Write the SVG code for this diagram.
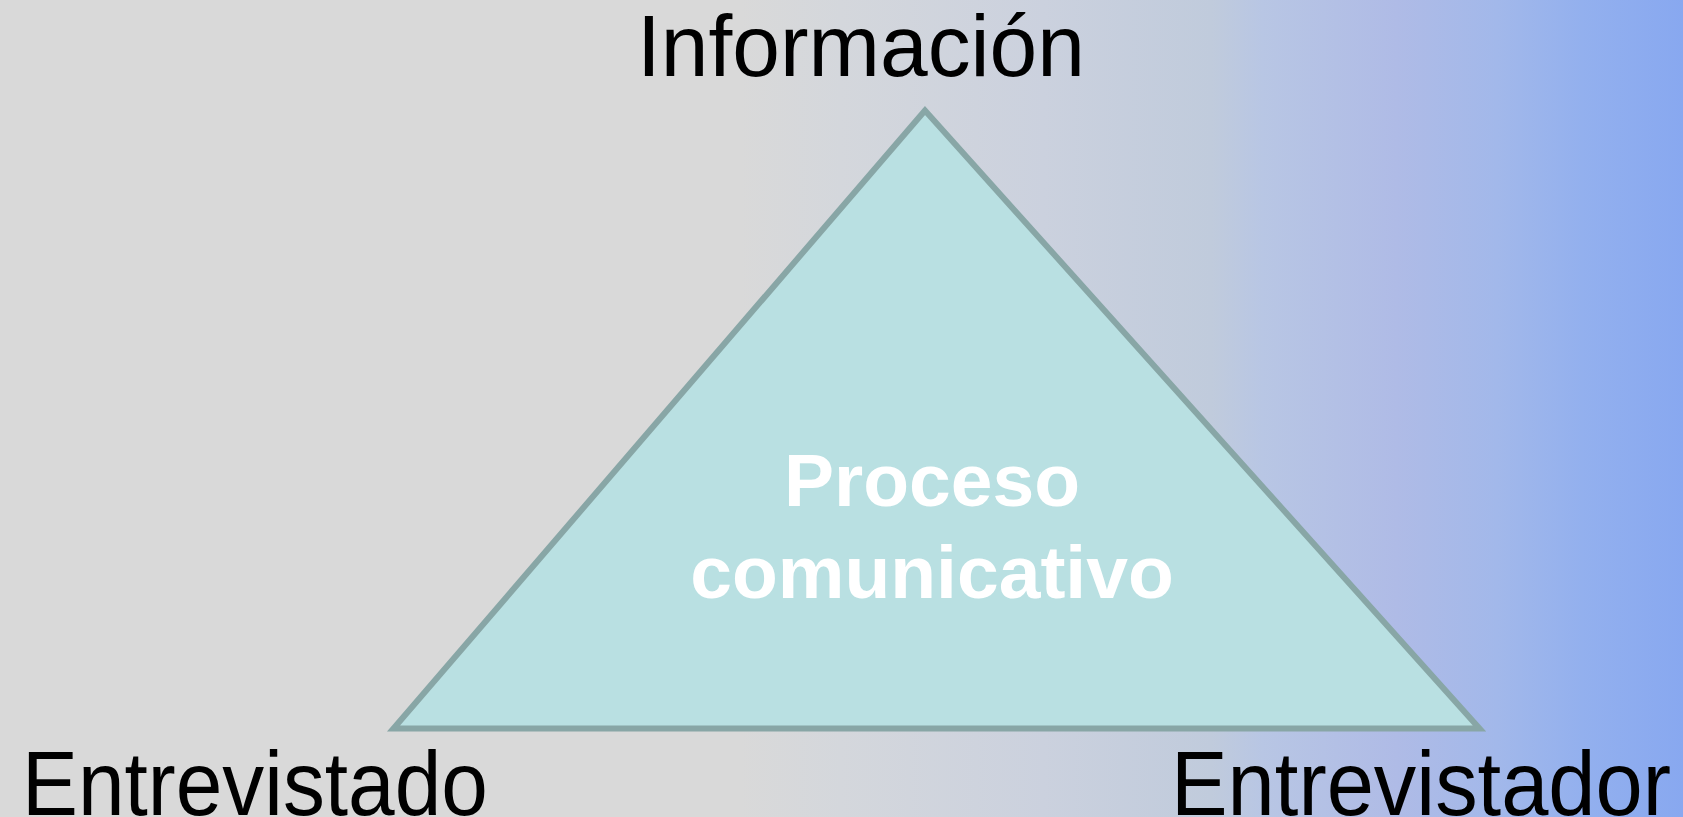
<svg xmlns="http://www.w3.org/2000/svg" width="1683" height="817" viewBox="0 0 1683 817">
<defs>
<linearGradient id="bg" x1="0" y1="0" x2="1683" y2="0" gradientUnits="userSpaceOnUse">
<stop offset="0" stop-color="#d9d9d9"/>
<stop offset="0.44" stop-color="#d9d9d9"/>
<stop offset="0.50" stop-color="#d4d7dc"/>
<stop offset="0.62" stop-color="#cbd1de"/>
<stop offset="0.72" stop-color="#c0cbdc"/>
<stop offset="0.75" stop-color="#b8c6e4"/>
<stop offset="0.83" stop-color="#afbbe6"/>
<stop offset="0.89" stop-color="#a2b8ea"/>
<stop offset="0.94" stop-color="#93b0ee"/>
<stop offset="1" stop-color="#88a8f0"/>
</linearGradient>
<style>
.lbl{font-family:"Liberation Sans",Arial,sans-serif;fill:#000000}
.inner{font-family:"Liberation Sans",Arial,sans-serif;font-weight:bold;font-size:75px;fill:#ffffff;text-anchor:middle}
.tri{fill:#b9e0e2;stroke:#88a6a6;stroke-width:6;stroke-linejoin:miter}
</style>
</defs>
<rect x="0" y="0" width="1683" height="817" fill="url(#bg)"/>
<g id="triangle">
<polygon class="tri" points="925,110.5 393.5,728.5 1479.5,728.5"/>
<text class="inner" x="932" y="506">Proceso</text>
<text class="inner" x="932" y="598">comunicativo</text>
</g>
<g id="informacion">
<text class="lbl" x="861" y="76" font-size="87" text-anchor="middle" textLength="448" lengthAdjust="spacingAndGlyphs">Información</text>
</g>
<g id="entrevistado">
<text class="lbl" x="22" y="815" font-size="91" textLength="466" lengthAdjust="spacingAndGlyphs">Entrevistado</text>
</g>
<g id="entrevistador">
<text class="lbl" x="1171" y="815" font-size="91" textLength="500" lengthAdjust="spacingAndGlyphs">Entrevistador</text>
</g>
<g id="connectors"></g>
</svg>
